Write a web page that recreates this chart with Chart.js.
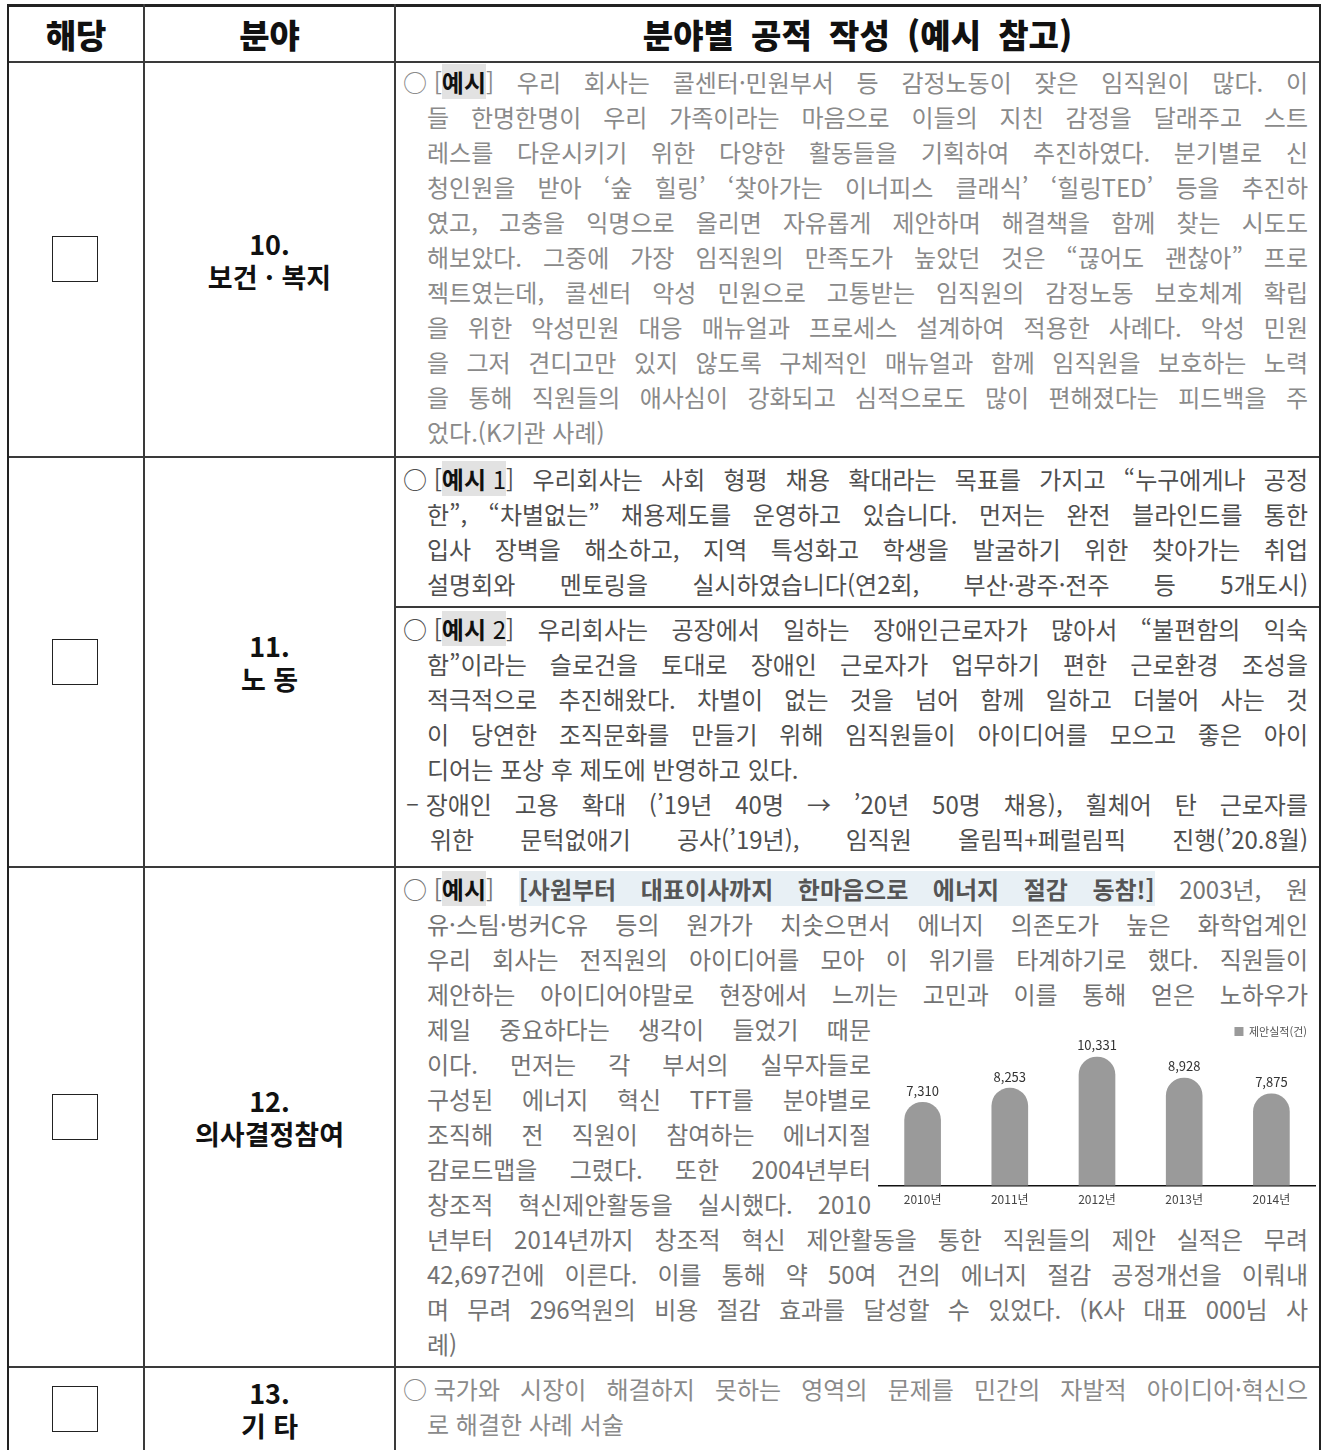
<!DOCTYPE html>
<html lang="ko">
<head>
<meta charset="utf-8">
<script src="https://cdn.jsdelivr.net/npm/chart.js@4.4.1/dist/chart.umd.min.js"></script>
<style>
  body { margin: 0; background: #fff; }
  #page { position: relative; width: 1329px; height: 1450px; overflow: hidden; font-family: "Noto Sans CJK KR", sans-serif; }
  .h, .v { position: absolute; background: #3a3a3a; }
  .h { height: 2px; }
  .v { width: 2px; }
  .head { position: absolute; top: 6px; height: 56px; display: flex; align-items: center; justify-content: center;
          font-weight: 900; font-size: 33px; color: #111; word-spacing: 8px; }
  .field { position: absolute; left: 145px; width: 249px; display: flex; align-items: center; justify-content: center;
           text-align: center; font-weight: 700; font-size: 27px; line-height: 33px; color: #111; }
  .box { position: absolute; left: 52px; width: 44px; height: 44px; border: 1.5px solid #222; }
  .cell { position: absolute; left: 403px; width: 905px; font-size: 24px; line-height: 35px; }
  .ln { height: 35px; overflow: hidden; text-align: justify; text-align-last: justify; }
  .in { padding-left: 24px; }
  .end { text-align-last: left; }
  .ib { display: inline-block; }
  .c10, .c13 { color: #8a8a8a; }
  .c11 { color: #4f4f4f; }
  .c12 { color: #737373; }
  .tag { background: #e2e2e2; color: #111; font-weight: 700; }
  .tag i { font-style: normal; font-weight: 400; }
  .title { background: #e8f0f5; color: #555; font-weight: 700; }
  .narrow { width: 444px; }
  #chartBox { position: absolute; left: 878px; top: 1018px; width: 440px; height: 200px; }
</style>
</head>
<body>
<div id="page">
  <!-- grid lines -->
  <div class="h" style="left:7px; top:4px; width:1314px; height:3px; background:#222"></div>
  <div class="h" style="left:7px; top:61px; width:1314px"></div>
  <div class="h" style="left:7px; top:456px; width:1314px"></div>
  <div class="h" style="left:394px; top:606px; width:927px"></div>
  <div class="h" style="left:7px; top:866px; width:1314px"></div>
  <div class="h" style="left:7px; top:1366px; width:1314px"></div>
  <div class="v" style="left:7px; top:4px; height:1446px; background:#222"></div>
  <div class="v" style="left:143px; top:4px; height:1446px"></div>
  <div class="v" style="left:394px; top:4px; height:1446px"></div>
  <div class="v" style="left:1319px; top:4px; height:1446px; background:#222"></div>

  <!-- header -->
  <div class="head" style="left:9px; width:134px">해당</div>
  <div class="head" style="left:145px; width:249px">분야</div>
  <div class="head" style="left:396px; width:923px">분야별 공적 작성 (예시 참고)</div>

  <!-- column 1 / column 2 -->
  <div class="box" style="top:236px"></div>
  <div class="field" style="top:63px; height:393px"><div>10.<br>보건 · 복지</div></div>

  <div class="box" style="top:639px"></div>
  <div class="field" style="top:458px; height:408px"><div>11.<br>노 동</div></div>

  <div class="box" style="top:1094px"></div>
  <div class="field" style="top:868px; height:498px"><div>12.<br>의사결정참여</div></div>

  <div class="box" style="top:1386px"></div>
  <div class="field" style="top:1368px; height:82px"><div>13.<br>기 타</div></div>

  <!-- 10. 보건·복지 -->
  <div class="cell c10" style="top:64px">
    <div class="ln"><span class="ib">○ [<span class="tag">예시</span>]</span> 우리 회사는 콜센터·민원부서 등 감정노동이 잦은 임직원이 많다. 이</div>
    <div class="ln in">들 한명한명이 우리 가족이라는 마음으로 이들의 지친 감정을 달래주고 스트</div>
    <div class="ln in">레스를 다운시키기 위한 다양한 활동들을 기획하여 추진하였다. 분기별로 신</div>
    <div class="ln in">청인원을 받아 ‘숲 힐링’ ‘찾아가는 이너피스 클래식’ ‘힐링TED’ 등을 추진하</div>
    <div class="ln in">였고, 고충을 익명으로 올리면 자유롭게 제안하며 해결책을 함께 찾는 시도도</div>
    <div class="ln in">해보았다. 그중에 가장 임직원의 만족도가 높았던 것은 “끊어도 괜찮아” 프로</div>
    <div class="ln in">젝트였는데, 콜센터 악성 민원으로 고통받는 임직원의 감정노동 보호체계 확립</div>
    <div class="ln in">을 위한 악성민원 대응 매뉴얼과 프로세스 설계하여 적용한 사례다. 악성 민원</div>
    <div class="ln in">을 그저 견디고만 있지 않도록 구체적인 매뉴얼과 함께 임직원을 보호하는 노력</div>
    <div class="ln in">을 통해 직원들의 애사심이 강화되고 심적으로도 많이 편해졌다는 피드백을 주</div>
    <div class="ln in end">었다.(K기관 사례)</div>
  </div>

  <!-- 11. 노동 -->
  <div class="cell c11" style="top:461px">
    <div class="ln"><span class="ib">○ [<span class="tag">예시<i> 1</i></span>]</span> 우리회사는 사회 형평 채용 확대라는 목표를 가지고 “누구에게나 공정</div>
    <div class="ln in">한”, “차별없는” 채용제도를 운영하고 있습니다. 먼저는 완전 블라인드를 통한</div>
    <div class="ln in">입사 장벽을 해소하고, 지역 특성화고 학생을 발굴하기 위한 찾아가는 취업</div>
    <div class="ln in">설명회와 멘토링을 실시하였습니다(연2회, 부산·광주·전주 등 5개도시)</div>
  </div>
  <div class="cell c11" style="top:611px">
    <div class="ln"><span class="ib">○ [<span class="tag">예시<i> 2</i></span>]</span> 우리회사는 공장에서 일하는 장애인근로자가 많아서 “불편함의 익숙</div>
    <div class="ln in">함”이라는 슬로건을 토대로 장애인 근로자가 업무하기 편한 근로환경 조성을</div>
    <div class="ln in">적극적으로 추진해왔다. 차별이 없는 것을 넘어 함께 일하고 더불어 사는 것</div>
    <div class="ln in">이 당연한 조직문화를 만들기 위해 임직원들이 아이디어를 모으고 좋은 아이</div>
    <div class="ln in end">디어는 포상 후 제도에 반영하고 있다.</div>
    <div class="ln" style="padding-left:3px"><span class="ib">–&nbsp;장애인</span> 고용 확대 (’19년 40명 → ’20년 50명 채용), 휠체어 탄 근로자를</div>
    <div class="ln" style="padding-left:27px">위한 문턱없애기 공사(’19년), 임직원 올림픽+페럴림픽 진행(’20.8월)</div>
  </div>

  <!-- 12. 의사결정참여 -->
  <div class="cell c12" style="top:871px">
    <div class="ln"><span class="ib">○ [<span class="tag">예시</span>]</span> <span class="title">[사원부터 대표이사까지 한마음으로 에너지 절감 동참!]</span> 2003년, 원</div>
    <div class="ln in">유·스팀·벙커C유 등의 원가가 치솟으면서 에너지 의존도가 높은 화학업계인</div>
    <div class="ln in">우리 회사는 전직원의 아이디어를 모아 이 위기를 타계하기로 했다. 직원들이</div>
    <div class="ln in">제안하는 아이디어야말로 현장에서 느끼는 고민과 이를 통해 얻은 노하우가</div>
    <div class="ln in narrow">제일 중요하다는 생각이 들었기 때문</div>
    <div class="ln in narrow">이다. 먼저는 각 부서의 실무자들로</div>
    <div class="ln in narrow">구성된 에너지 혁신 TFT를 분야별로</div>
    <div class="ln in narrow">조직해 전 직원이 참여하는 에너지절</div>
    <div class="ln in narrow">감로드맵을 그렸다. 또한 2004년부터</div>
    <div class="ln in narrow">창조적 혁신제안활동을 실시했다. 2010</div>
    <div class="ln in">년부터 2014년까지 창조적 혁신 제안활동을 통한 직원들의 제안 실적은 무려</div>
    <div class="ln in">42,697건에 이른다. 이를 통해 약 50여 건의 에너지 절감 공정개선을 이뤄내</div>
    <div class="ln in">며 무려 296억원의 비용 절감 효과를 달성할 수 있었다. (K사 대표 000님 사</div>
    <div class="ln in end">례)</div>
  </div>
  <div id="chartBox"><canvas id="chart" width="440" height="200"></canvas></div>

  <!-- 13. 기타 -->
  <div class="cell c13" style="top:1371px">
    <div class="ln"><span class="ib">○ 국가와</span> 시장이 해결하지 못하는 영역의 문제를 민간의 자발적 아이디어·혁신으</div>
    <div class="ln in end">로 해결한 사례 서술</div>
  </div>
</div>

<script>
const years = ["2010년", "2011년", "2012년", "2013년", "2014년"];
const proposals = [7310, 8253, 10331, 8928, 7875];
const seriesName = "제안실적(건)";

// value labels above each bar
const valueLabels = {
  id: "valueLabels",
  afterDatasetsDraw(chart) {
    const ctx = chart.ctx;
    const meta = chart.getDatasetMeta(0);
    ctx.save();
    ctx.font = "13px 'Noto Sans CJK KR', sans-serif";
    ctx.fillStyle = "#333";
    ctx.textAlign = "center";
    ctx.textBaseline = "bottom";
    meta.data.forEach((bar, i) => {
      ctx.fillText(proposals[i].toLocaleString("en-US"), bar.x, bar.y - 5);
    });
    ctx.restore();
  }
};

new Chart(document.getElementById("chart"), {
  type: "bar",
  data: {
    labels: years,
    datasets: [{
      label: seriesName,
      data: proposals,
      backgroundColor: "#9a9a9a",
      barThickness: 36,
      borderRadius: 18,
      borderSkipped: "start"
    }]
  },
  options: {
    responsive: false,
    maintainAspectRatio: false,
    animation: false,
    layout: { padding: { left: 1, right: 3, bottom: 4, top: 0 } },
    plugins: {
      legend: {
        position: "top",
        align: "end",
        labels: { boxWidth: 9, boxHeight: 9, color: "#555", font: { size: 11, family: "'Noto Sans CJK KR'" }, padding: 8 }
      },
      tooltip: { enabled: false }
    },
    scales: {
      y: { display: false, min: 1740, max: 11000 },
      x: {
        grid: { display: false, drawTicks: false },
        border: { display: true, color: "#111", width: 1.5 },
        ticks: { color: "#444", font: { size: 12, family: "'Noto Sans CJK KR'" }, padding: 7 }
      }
    }
  },
  plugins: [valueLabels]
});
</script>
</body>
</html>
